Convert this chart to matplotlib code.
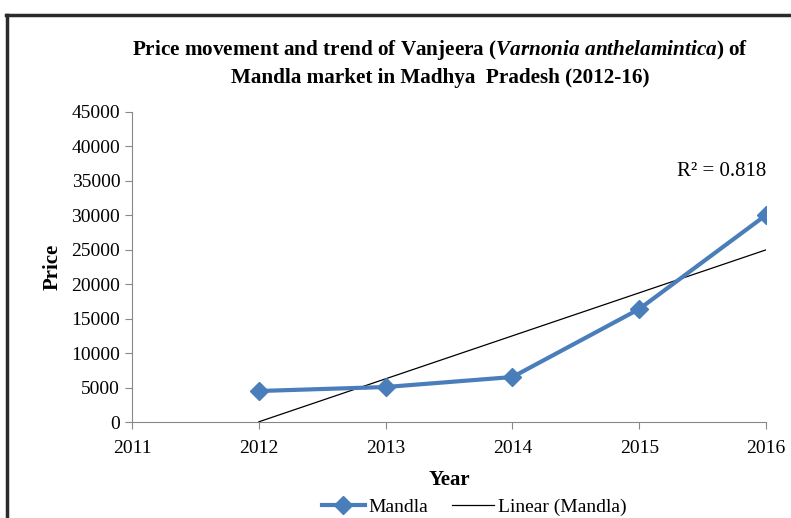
import matplotlib
matplotlib.use("Agg")
import matplotlib.pyplot as plt
import numpy as np
from matplotlib.lines import Line2D

years = [2012, 2013, 2014, 2015, 2016]
price = [4500, 5080, 6530, 16400, 30040]
r2_label = "R² = 0.818"

plt.rcParams["font.family"] = ["Liberation Serif", "DejaVu Serif"]
plt.rcParams["mathtext.fontset"] = "custom"
plt.rcParams["mathtext.it"] = "Liberation Serif:bold:italic"
plt.rcParams["mathtext.rm"] = "Liberation Serif:bold"

fig = plt.figure(figsize=(7.91, 5.18), dpi=100)
ax = fig.add_axes([0.1669, 0.1853, 0.8015, 0.5985])

BLUE = "#4A7EBB"
ax.plot(years, price, color=BLUE, linewidth=3, marker="D", markersize=9,
        label="Mandla", zorder=3)

# linear trend from the data
xs = np.arange(1, len(years) + 1)
k, b = np.polyfit(xs, price, 1)
trend = k * xs + b
ax.plot(years, trend, color="black", linewidth=0.9, label="Linear (Mandla)", zorder=2)

ax.set_xlim(2011, 2016)
ax.set_ylim(0, 45000)
ax.set_xticks(range(2011, 2017))
ax.set_yticks(range(0, 45001, 5000))
ax.tick_params(axis="both", labelsize=14, color="#888888", length=5)
ax.tick_params(axis="x", pad=8)
ax.spines[["top", "right"]].set_visible(False)
for s in ("left", "bottom"):
    ax.spines[s].set_color("#888888")

ax.set_xlabel("Year", fontsize=15, fontweight="bold", labelpad=9)
ax.set_ylabel("Price", fontsize=15, fontweight="bold", labelpad=6)
ax.text(2016, 36300, r2_label, fontsize=15, ha="right", va="center")

fig.text(0.556, 0.903, "Price movement and trend of Vanjeera ($\\mathit{Varnonia\\ anthelamintica}$) of",
         ha="center", va="center", fontsize=15.2, fontweight="bold")
fig.text(0.556, 0.849, "Mandla market in Madhya  Pradesh (2012-16)",
         ha="center", va="center", fontsize=15.2, fontweight="bold")

ax.legend(loc="upper center", bbox_to_anchor=(0.54, -0.245), ncol=2, frameon=False,
          fontsize=14, handlelength=2.2, columnspacing=1.2, handletextpad=0.2,
          borderaxespad=0, borderpad=0)

# outer frame (top and left)
fig.add_artist(Line2D([0.008, 1.0], [0.971, 0.971], color="#2b2b2b", linewidth=2.5,
                      transform=fig.transFigure))
fig.add_artist(Line2D([0.009, 0.009], [0.0, 0.971], color="#2b2b2b", linewidth=2.5,
                      transform=fig.transFigure))

fig.savefig("out.png", dpi=100)
